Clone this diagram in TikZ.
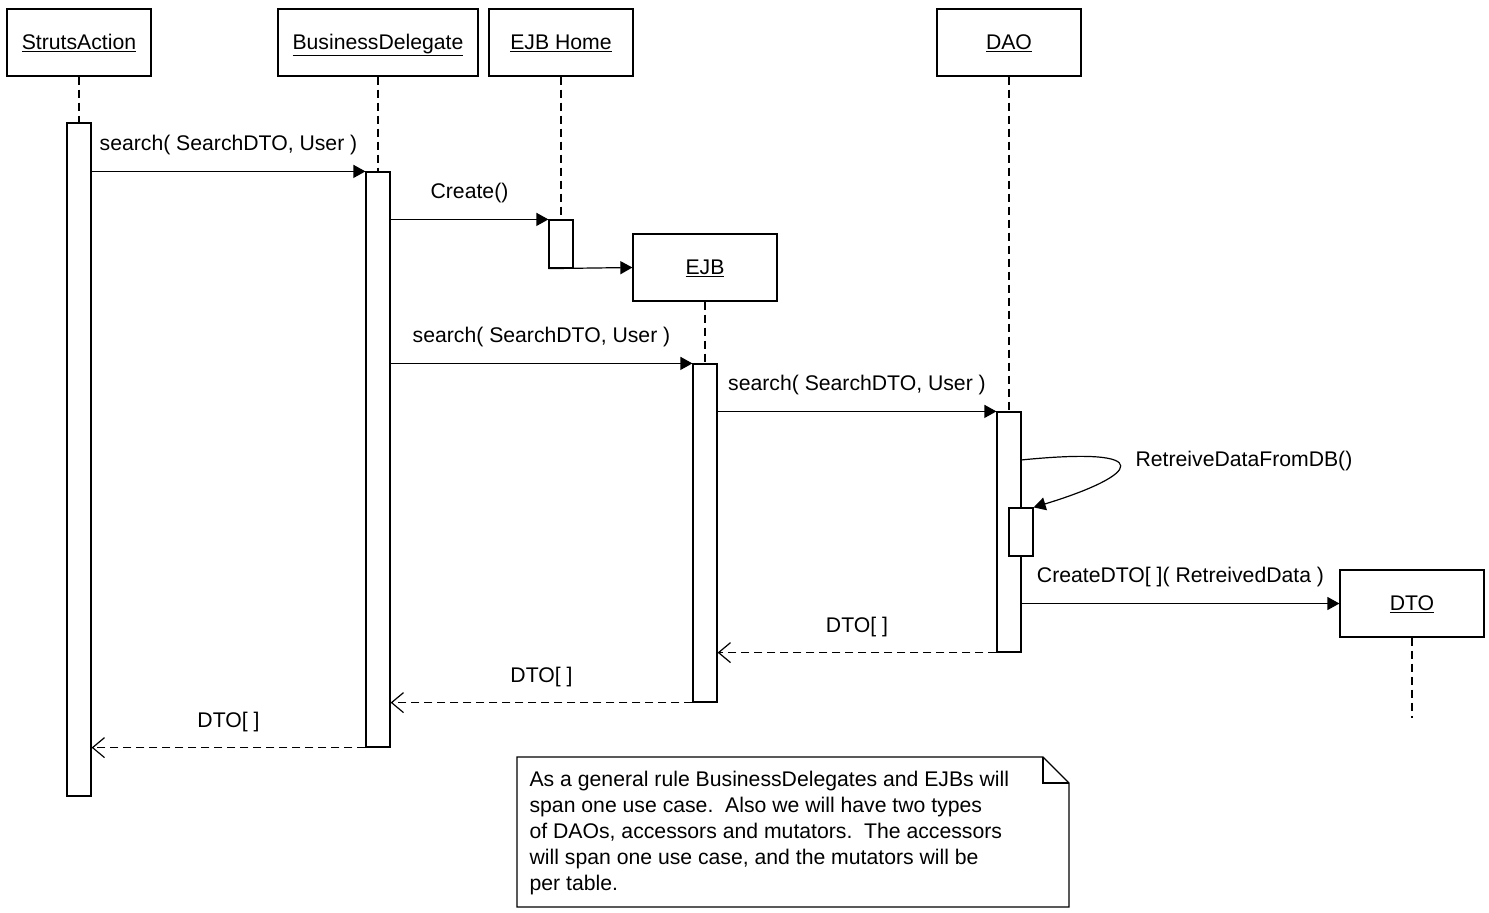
\documentclass[tikz,border=0pt]{standalone}
\usepackage{fontspec}
\setmainfont{Liberation Sans}
\usetikzlibrary{arrows.meta}
\begin{document}
\begin{tikzpicture}[x=1pt,y=-1pt,
  every node/.style={font=\fontsize{21.2}{26}\selectfont, inner sep=0pt},
  obj/.style={draw, fill=white, minimum width=144pt, minimum height=67pt, text height=17pt, text depth=3pt},
  act/.style={draw, fill=white, minimum width=24pt},
  life/.style={dash pattern=on 8pt off 5pt},
  msg/.style={-{Triangle[length=12pt,width=13pt]}},
  ret/.style={dash pattern=on 8pt off 5pt, -{Straight Barb[length=12pt,width=20pt]}},
  lbl/.style={midway, yshift=26pt, text height=15.3pt, text depth=4.5pt},
  line width=1.2pt]
\useasboundingbox (0,0) rectangle (1489,913);
% objects
\node[obj] (sa) at (79,42.5) {\underline{StrutsAction}};
\node[obj, minimum width=200pt] (bd) at (378,42.5) {\underline{BusinessDelegate}};
\node[obj] (eh) at (561,42.5) {\underline{EJB Home}};
\node[obj] (ejb) at (705,267.5) {\underline{EJB}};
\node[obj] (dao) at (1009,42.5) {\underline{DAO}};
\node[obj] (dto) at (1412,603.5) {\underline{DTO}};
% activations
\node[act, minimum height=673pt] (saact) at (79,459.5) {};
\node[act, minimum height=575pt] (bdact) at (378,459.5) {};
\node[act, minimum height=48pt] (ehact) at (561,244) {};
\node[act, minimum height=338pt] (ejbact) at (705,533) {};
\node[act, minimum height=240pt] (daoact) at (1009,532) {};
\node[act, minimum height=48pt] (daosub) at (1021,532) {};
% lifelines
\coordinate (dtoend) at (1412,718);
\draw[life] (sa.south) -- (saact.north);
\draw[life] (bd.south) -- (bdact.north);
\draw[life] (eh.south) -- (ehact.north);
\draw[life] (ejb.south) -- (ejbact.north);
\draw[life] (dao.south) -- (daoact.north);
\draw[life] (dto.south) -- (dtoend);
% messages
\draw[msg] (saact.east |- bdact.north) -- node[lbl]{search( SearchDTO, User )} (bdact.north west);
\draw[msg] (bdact.east |- ehact.north) -- node[lbl]{Create()} (ehact.north west);
\draw[msg] (ehact.south west) -- (ejb.west);
\draw[msg] (bdact.east |- ejbact.north) -- node[lbl]{search( SearchDTO, User )} (ejbact.north west);
\draw[msg] (ejbact.east |- daoact.north) -- node[lbl]{search( SearchDTO, User )} (daoact.north west);
\coordinate (selfstart) at (1021,460);
\draw[msg] (selfstart) .. controls (1160,446) and (1140,475) .. (daosub.north east);
\node[anchor=west, text height=15.3pt, text depth=4.5pt] (rlbl) at (1135,461) {RetreiveDataFromDB()};
\draw[msg] (daoact.east |- dto.west) -- node[lbl]{CreateDTO[ ]( RetreivedData )} (dto.west);
% returns
\draw[ret] (daoact.south west) -- node[lbl]{DTO[ ]} (ejbact.east |- daoact.south);
\draw[ret] (ejbact.south west) -- node[lbl]{DTO[ ]} (bdact.east |- ejbact.south);
\draw[ret] (bdact.south west) -- node[lbl]{DTO[ ]} (saact.east |- bdact.south);
% note
\draw (517,757) -- (1043,757) -- (1069,783) -- (1069,907) -- (517,907) -- cycle;
\draw (1043,757) -- (1043,783) -- (1069,783);
\node[anchor=north west, align=left] (note) at (529,771) {As a general rule BusinessDelegates and EJBs will\\span one use case.\ \ Also we will have two types\\of DAOs, accessors and mutators.\ \ The accessors\\will span one use case, and the mutators will be\\per table.};
\end{tikzpicture}
\end{document}
